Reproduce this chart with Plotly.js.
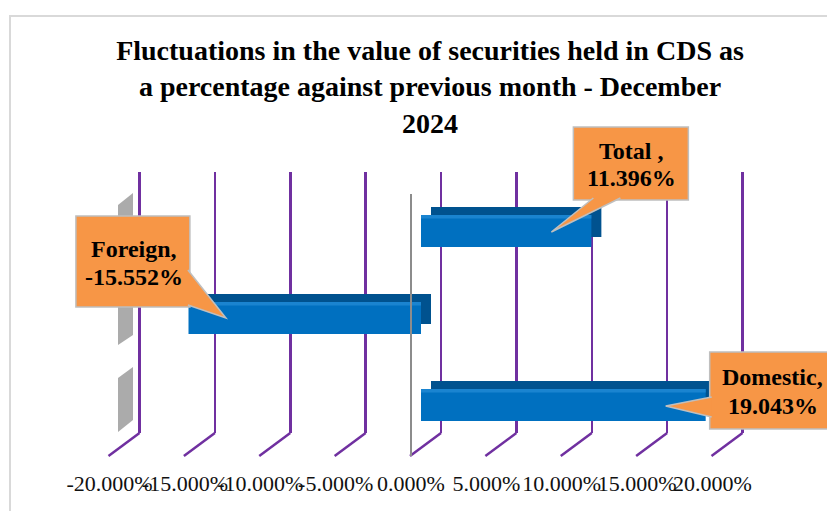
<!DOCTYPE html>
<html><head><meta charset="utf-8">
<script src="https://cdn.plot.ly/plotly-3.0.1.min.js"></script>
<style>html,body{margin:0;padding:0;background:#fff}#chart{width:827px;height:511px}</style>
</head><body><div id="chart"></div>
<script>
// ---- data ----
const categories = ['Domestic', 'Foreign', 'Total'];
const values = [19.043, -15.552, 11.396];
const labelNames = ['Domestic,', 'Foreign,', 'Total ,'];
const tickValues = [-20, -15, -10, -5, 0, 5, 10, 15, 20];
const tickLabels = ['-20.000%', '-15.000%', '-10.000%', '-5.000%', '0.000%', '5.000%', '10.000%', '15.000%', '20.000%'];

// ---- geometry helpers (pixel layout of the 3D-look chart) ----
const W = 827, H = 511;
const px = x => x / W;
const py = y => 1 - y / H;
const rangeFor = (zeroPx, scale) => [-zeroPx / scale, (W - zeroPx) / scale];
const barScale = 14.95, gridScale = 15.075;
const yRange = [(401 - H) / 87, 401 / 87];

const PURPLE = '#7030A0', ORANGE = '#F79646', BOXLINE = '#BFBFBF';

// callout geometry per category (pixels relative to the bar end, y up)
const callouts = {
  Domestic: {box: [4, 130, -28, 49], wedge: 'M6,4 L-40,-5 L6,-16', dx: 67, dy: [24, -5]},
  Foreign:  {box: [-112.6, 1.4, 7, 98], wedge: 'M-0.6,44 L37.4,-4 L-0.6,9', dx: -55, dy: [65, 37]},
  Total:    {box: [-18, 97, 27, 100], wedge: 'M2,29 L-40,-5 L29,29', dx: 40, dy: [76, 49]}
};

const traces = [
  {type: 'scatter', x: [], y: [], xaxis: 'x', yaxis: 'y', hoverinfo: 'skip', showlegend: false},
  // depth (top/side faces) of the bars
  {type: 'bar', orientation: 'h', x: values, y: categories, xaxis: 'x2', yaxis: 'y2',
   offset: -0.115, width: 0.345, marker: {color: '#00528F'}, showlegend: false, hoverinfo: 'skip'},
  // front faces
  {type: 'bar', orientation: 'h', x: values, y: categories, xaxis: 'x4', yaxis: 'y2',
   offset: -0.23, width: 0.368, marker: {color: '#0070C0'}, showlegend: false},
  // highlight stripe
  {type: 'bar', orientation: 'h', x: values, y: categories, xaxis: 'x4', yaxis: 'y2',
   offset: 0.098, width: 0.04, marker: {color: '#1A84D0'}, showlegend: false, hoverinfo: 'skip'},
  {type: 'scatter', x: [], y: [], xaxis: 'x3', yaxis: 'y3', hoverinfo: 'skip', showlegend: false}
];

const shapes = [
  // outer chart border
  {type: 'rect', xref: 'paper', yref: 'paper', x0: px(10), x1: px(900), y0: py(16), y1: py(600),
   line: {color: '#D9D9D9', width: 2}, fillcolor: 'rgba(0,0,0,0)', layer: 'below'},
  // left wall shadow
  {type: 'path', xref: 'paper', yref: 'paper', layer: 'below', fillcolor: '#ABABAB', line: {width: 0},
   path: `M${px(118)},${py(205)} L${px(133)},${py(193)} L${px(133)},${py(335)} L${px(118)},${py(345)} Z`},
  {type: 'path', xref: 'paper', yref: 'paper', layer: 'below', fillcolor: '#ABABAB', line: {width: 0},
   path: `M${px(118)},${py(378)} L${px(133)},${py(367)} L${px(133)},${py(420)} L${px(118)},${py(432)} Z`}
];
// perspective feet of the gridlines
tickValues.forEach(t => shapes.push({
  type: 'line', xref: 'x', xsizemode: 'pixel', xanchor: t, x0: 0, x1: -31,
  yref: 'paper', y0: py(433), y1: py(456), line: {color: PURPLE, width: 2.5}, layer: 'below'
}));
// front zero line
shapes.push({type: 'line', xref: 'x3', x0: 0, x1: 0, yref: 'paper', y0: py(194), y1: py(456),
  line: {color: '#8C8C8C', width: 2}, layer: 'above'});

const annotations = [];
categories.forEach((c, i) => {
  const g = callouts[c];
  const base = {xref: 'x4', yref: 'y2', xsizemode: 'pixel', xanchor: values[i],
    ysizemode: 'pixel', yanchor: c, layer: 'above'};
  shapes.push(Object.assign({}, base, {type: 'rect', x0: g.box[0], x1: g.box[1], y0: g.box[2], y1: g.box[3],
    fillcolor: ORANGE, line: {color: BOXLINE, width: 1.5}}));
  shapes.push(Object.assign({}, base, {type: 'path', path: g.wedge, fillcolor: ORANGE,
    line: {color: BOXLINE, width: 1.5}}));
  const lines = [labelNames[i], values[i].toFixed(3) + '%'];
  lines.forEach((txt, k) => annotations.push({
    xref: 'x4', x: values[i], yref: 'y2', y: c, xshift: g.dx, yshift: g.dy[k],
    text: txt, showarrow: false, xanchor: 'center', yanchor: 'middle',
    font: {family: 'Liberation Serif', size: 24, color: '#000', weight: 'bold'}
  }));
});

const hidden = {showgrid: false, zeroline: false, showline: false, showticklabels: false, ticks: ''};

const layout = {
  width: W, height: H,
  margin: {l: 0, r: 0, t: 0, b: 0, pad: 0},
  paper_bgcolor: '#fff', plot_bgcolor: 'rgba(0,0,0,0)',
  showlegend: false, barmode: 'overlay',
  title: {
    text: 'Fluctuations in the value of securities held in CDS as<br>a percentage against previous month - December<br>2024',
    font: {family: 'Liberation Serif', size: 28, color: '#000', weight: 'bold'},
    x: px(430), xanchor: 'center', xref: 'paper', y: 1 - 60 / H, yref: 'container', yanchor: 'top'
  },
  xaxis: Object.assign({}, hidden, {domain: [0, 1], range: rangeFor(441, gridScale), anchor: 'y',
    tickmode: 'array', tickvals: tickValues, showgrid: true, gridcolor: PURPLE, gridwidth: 2.5}),
  yaxis: Object.assign({}, hidden, {domain: [py(433), py(172)], range: [0, 1], anchor: 'x'}),
  xaxis2: Object.assign({}, hidden, {domain: [0, 1], range: rangeFor(431, barScale), anchor: 'y2'}),
  xaxis4: Object.assign({}, hidden, {range: rangeFor(421, barScale), overlaying: 'x2', anchor: 'y2'}),
  yaxis2: Object.assign({}, hidden, {domain: [0, 1], range: yRange, anchor: 'x2', type: 'category',
    categoryorder: 'array', categoryarray: categories}),
  xaxis3: Object.assign({}, hidden, {domain: [0, 1], range: rangeFor(411, gridScale), anchor: 'y3',
    tickmode: 'array', tickvals: tickValues, ticktext: tickLabels, showticklabels: true, tickangle: 0,
    tickfont: {family: 'Liberation Serif', size: 22, color: '#111'}}),
  yaxis3: Object.assign({}, hidden, {domain: [py(468), py(458)], range: [0, 1], anchor: 'x3'}),
  shapes: shapes,
  annotations: annotations
};

Plotly.newPlot('chart', traces, layout, {displayModeBar: false, staticPlot: true});
</script>
</body></html>
